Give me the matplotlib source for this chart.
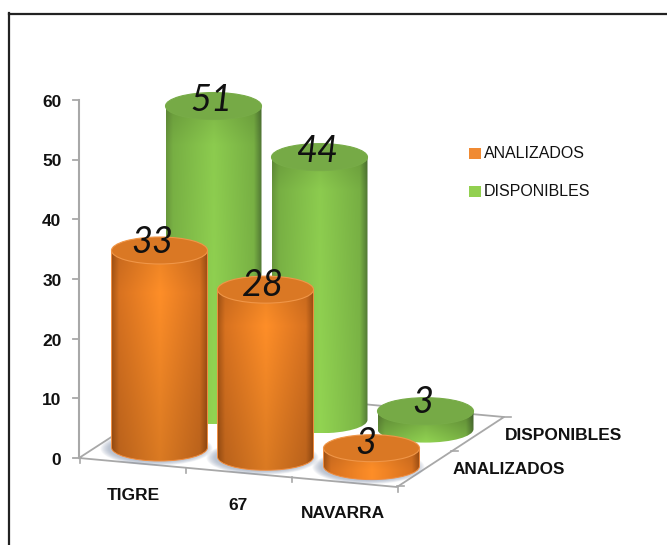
import numpy as np
import matplotlib
matplotlib.use("Agg")
import matplotlib.pyplot as plt
from matplotlib.patches import Ellipse, PathPatch, Rectangle
from matplotlib.path import Path

# Data
categories = ["TIGRE", "67", "NAVARRA"]
series_names = ["ANALIZADOS", "DISPONIBLES"]
analizados = [33, 28, 3]
disponibles = [51, 44, 3]
y_ticks = [0, 10, 20, 30, 40, 50, 60]

# Layout of the fake 3D chart, in pixels of the 667x545 picture
Y0 = 458
UNIT = 5.97
CAT_DX, CAT_DY = 106, 9.3
FRONT_X, FRONT_Y = 159.5, 447.5
BACK_X, BACK_Y = 213.5, 410.5
RX, RY = 48, 13.5

ORANGE = {
    "left": (172, 88, 22), "right": (160, 80, 20), "side": (216, 114, 32), "mid": (254, 142, 40),
    "top": (218, 120, 36), "rim": (240, 150, 72), "line": (240, 140, 62),
}
GREEN = {
    "left": (108, 156, 62), "right": (84, 124, 54), "side": (124, 182, 70), "mid": (146, 212, 82),
    "top": (118, 170, 70), "rim": (120, 172, 72), "line": None,
}


def rgb(color):
    return tuple(c / 255 for c in color)


def body_image(style, tall):
    stops = [0, 0.07, 0.5, 0.92, 1]
    names = ["left", "side", "mid", "side", "right"]
    xs = np.linspace(0, 1, 96)
    row = np.column_stack([
        np.interp(xs, stops, [style[n][i] for n in names]) for i in range(3)
    ]) / 255
    ys = np.linspace(0, 1, 120)
    if style is ORANGE:
        if tall:
            shade = np.interp(ys, [0, 0.2, 0.75, 1], [0.92, 1, 0.9, 0.86])
        else:
            shade = np.interp(ys, [0, 0.7, 1], [0.9, 1, 1])
    else:
        if tall:
            shade = np.interp(ys, [0, 0.12, 1], [0.86, 0.96, 1])
        else:
            shade = np.interp(ys, [0, 0.45, 1], [0.74, 0.86, 1])
    return np.clip(row[None, :, :] * shade[:, None, None], 0, 1)


def draw_cylinder(ax, cx, base_y, value, style, z):
    top_y = base_y - value * UNIT
    k = 0.5523
    verts = [
        (cx - RX, top_y), (cx - RX, base_y),
        (cx - RX, base_y + RY * k), (cx - RX * k, base_y + RY), (cx, base_y + RY),
        (cx + RX * k, base_y + RY), (cx + RX, base_y + RY * k), (cx + RX, base_y),
        (cx + RX, top_y), (cx - RX, top_y),
    ]
    codes = [Path.MOVETO, Path.LINETO, Path.CURVE4, Path.CURVE4, Path.CURVE4,
             Path.CURVE4, Path.CURVE4, Path.CURVE4, Path.LINETO, Path.CLOSEPOLY]
    outline = PathPatch(Path(verts, codes), facecolor="none", edgecolor="none", zorder=z)
    ax.add_patch(outline)
    img = ax.imshow(body_image(style, value > 10), aspect="auto", zorder=z,
                    extent=(cx - RX, cx + RX, base_y + RY, top_y), interpolation="bilinear")
    img.set_clip_path(outline)
    if style["line"] is not None:
        border = PathPatch(Path(verts, codes), facecolor="none", edgecolor=rgb(style["line"]),
                           linewidth=0.7, zorder=z + 0.05)
        ax.add_patch(border)
    ax.add_patch(Ellipse((cx, top_y), 2 * RX, 2 * RY, facecolor=rgb(style["top"]),
                         edgecolor=rgb(style["rim"]), linewidth=0.8, zorder=z + 0.1))


def draw_shadow(ax, cx, base_y, z):
    for grow in np.linspace(8, 0, 9):
        ax.add_patch(Ellipse((cx - 3, base_y + 1), 2 * (RX + grow), 2 * (RY + grow * 0.45),
                             facecolor=(0.52, 0.58, 0.68), alpha=0.08, edgecolor="none", zorder=z))


fig = plt.figure(figsize=(6.67, 5.45), dpi=100)
ax = fig.add_axes([0, 0, 1, 1])
ax.set_axis_off()
ax.set_autoscale_on(False)
ax.set_xlim(0, 667)
ax.set_ylim(545, 0)

# Picture frame, only top and left are there
ax.plot([9, 667], [13.5, 13.5], color="#222222", linewidth=1.6, zorder=1)
ax.plot([9, 9], [13, 545], color="#222222", linewidth=1.6, zorder=1)

# Axes and floor
grey = "#a8a8a8"
floor_x = [79, 397, 504, 187, 79]
floor_y = [Y0, 487, 417, 388, Y0]
ax.plot(floor_x, floor_y, color=grey, linewidth=1.3, zorder=2)
ax.plot([79, 79], [Y0, Y0 - 60 * UNIT], color=grey, linewidth=1.5, zorder=2)
for t in y_ticks:
    y = Y0 - t * UNIT
    ax.plot([73, 79], [y, y], color=grey, linewidth=1.3, zorder=2)
    ax.text(61.5, y + 2.5, str(t), ha="right", va="center", fontsize=12.5,
            fontweight="bold", family="Liberation Sans", color="#111111")
for i in range(4):
    x = 80 + i * 106
    y = 458 + i * 9.6
    ax.plot([x, x], [y, y + 5], color=grey, linewidth=1.2, zorder=2)
for tx, ty in [(397, 486), (450.5, 451), (504, 417)]:
    ax.plot([tx, tx + 7], [ty, ty], color=grey, linewidth=1.2, zorder=2)

# Cylinders, back row first
for i, value in enumerate(disponibles):
    draw_cylinder(ax, BACK_X + i * CAT_DX, BACK_Y + i * CAT_DY, value, GREEN, 3 + i)
for i, value in enumerate(analizados):
    cx = FRONT_X + i * CAT_DX
    base_y = FRONT_Y + i * CAT_DY
    draw_shadow(ax, cx, base_y, 7 + i)
    draw_cylinder(ax, cx, base_y, value, ORANGE, 7.2 + i)

# Data labels
back_offsets = [(-2, -6), (-2, -6), (-3, -9)]
front_offsets = [(-7, -8), (-3, -4), (-6, -5)]
for i, value in enumerate(disponibles):
    x = BACK_X + i * CAT_DX + back_offsets[i][0]
    y = BACK_Y + i * CAT_DY - value * UNIT + back_offsets[i][1]
    ax.text(x, y, str(value), ha="center", va="center", fontsize=26, style="italic",
            family="Lato", color="#111111", zorder=20)
for i, value in enumerate(analizados):
    x = FRONT_X + i * CAT_DX + front_offsets[i][0]
    y = FRONT_Y + i * CAT_DY - value * UNIT + front_offsets[i][1]
    ax.text(x, y, str(value), ha="center", va="center", fontsize=26, style="italic",
            family="Lato", color="#111111", zorder=20)

# Category and series labels
for i, name in enumerate(categories):
    ax.text(133 + i * 105, 496 + i * 9, name, ha="center", va="center", fontsize=12.5,
            fontweight="bold", family="Liberation Sans", color="#111111")
ax.text(505, 435, series_names[1], ha="left", va="center", fontsize=12.5,
        fontweight="bold", family="Liberation Sans", color="#111111")
ax.text(453, 469.5, series_names[0], ha="left", va="center", fontsize=12.3,
        fontweight="bold", family="Liberation Sans", color="#111111")

# Legend
legend_y = [153, 191]
legend_colors = ["#f08a32", "#92d050"]
for name, y, color in zip(series_names, legend_y, legend_colors):
    ax.add_patch(Rectangle((469, y - 5.5), 12, 11, facecolor=color, edgecolor="none"))
    ax.text(484, y, name, ha="left", va="center", fontsize=11.5,
            family="Liberation Sans", color="#111111")

fig.savefig("out.png", dpi=100)
